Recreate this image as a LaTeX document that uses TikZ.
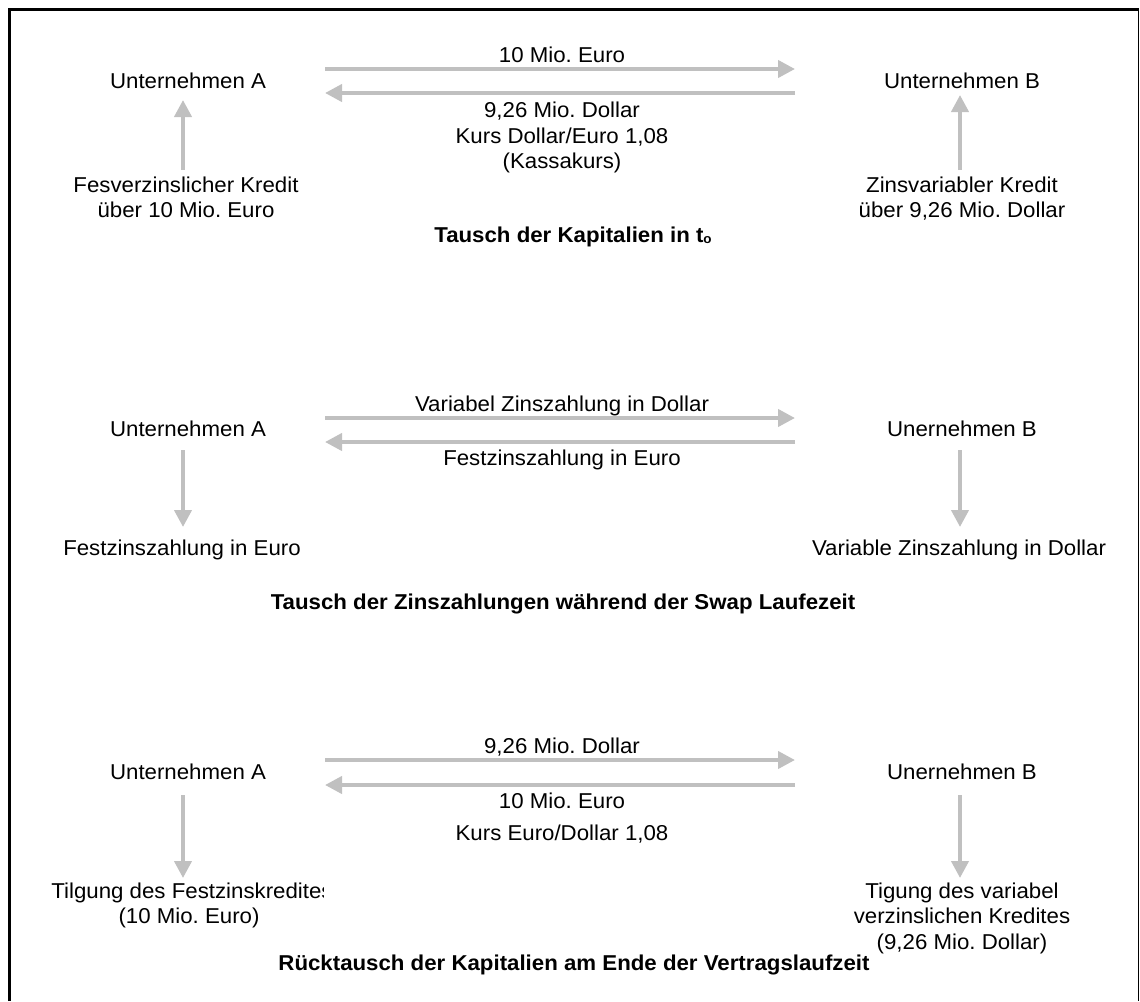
\documentclass[tikz,border=0pt]{standalone}
\usepackage{fontspec}
\setmainfont{Liberation Sans}[FakeStretch=1.035]
\usetikzlibrary{arrows.meta}
\definecolor{arr}{RGB}{192,192,192}
\frenchspacing
\tikzset{
  txt/.style={font=\fontsize{21.5}{25.5}\selectfont\frenchspacing, inner sep=0pt, align=center, anchor=base},
  ttl/.style={font=\fontsize{21.5}{25.5}\selectfont\bfseries\frenchspacing, inner sep=0pt, align=center, anchor=base},
  flow/.style={draw=arr, line width=4pt, -{Triangle[length=17pt,width=17pt]}},
}
\begin{document}
\begin{tikzpicture}[x=1pt,y=-1pt]
\useasboundingbox (0,0) rectangle (1140,1001);
% frame
\draw[line width=1.2pt] (1138.5,9.5) -- (1138.5,1001);
\draw[line width=3pt] (9.5,1001) -- (9.5,9.5) -- (1138.5,9.5);

% ---------- Section 1 (multi-line nodes: base = last line)
\node[txt] (a1) at (188,88) {Unternehmen A};
\node[txt] (b1) at (962,88) {Unternehmen B};
\node[txt] (l1t) at (562,62.5) {10 Mio. Euro};
\node[txt] (l1b) at (562,168.5) {9,26 Mio. Dollar\\Kurs Dollar/Euro 1,08\\(Kassakurs)};
\node[txt] (ka) at (186,217.5) {Fesverzinslicher Kredit\\über 10 Mio. Euro};
\node[txt] (kb) at (962,217.5) {Zinsvariabler Kredit\\über 9,26 Mio. Dollar};
\node[ttl] (t1) at (573,242) {Tausch der Kapitalien in t\raisebox{-1pt}{\fontsize{13}{13}\selectfont o}};
\coordinate (s1a) at (325,69);  \coordinate (s1b) at (795,69);
\coordinate (s1c) at (795,93);  \coordinate (s1d) at (325,93);
\coordinate (s1e) at (183,170); \coordinate (s1f) at (183,100);
\coordinate (s1g) at (960,170); \coordinate (s1h) at (960,95);
\draw[flow] (s1a) -- (s1b);
\draw[flow] (s1c) -- (s1d);
\draw[flow] (s1e) -- (s1f);
\draw[flow] (s1g) -- (s1h);

% ---------- Section 2
\node[txt] (a2) at (188,436) {Unternehmen A};
\node[txt] (b2) at (962,436) {Unernehmen B};
\node[txt] (l2t) at (562,411.5) {Variabel Zinszahlung in Dollar};
\node[txt] (l2b) at (562,465) {Festzinszahlung in Euro};
\node[txt] (za) at (182,555) {Festzinszahlung in Euro};
\node[txt] (zb) at (959,555) {Variable Zinszahlung in Dollar};
\node[ttl] (t2) at (563,609) {Tausch der Zinszahlungen während der Swap Laufezeit};
\coordinate (s2a) at (325,418); \coordinate (s2b) at (795,418);
\coordinate (s2c) at (795,442); \coordinate (s2d) at (325,442);
\coordinate (s2e) at (183,450); \coordinate (s2f) at (183,527);
\coordinate (s2g) at (960,450); \coordinate (s2h) at (960,527);
\draw[flow] (s2a) -- (s2b);
\draw[flow] (s2c) -- (s2d);
\draw[flow] (s2e) -- (s2f);
\draw[flow] (s2g) -- (s2h);

% ---------- Section 3
\node[txt] (a3) at (188,779) {Unternehmen A};
\node[txt] (b3) at (962,779) {Unernehmen B};
\node[txt] (l3t) at (562,753.5) {9,26 Mio. Dollar};
\node[txt] (l3b) at (562,808) {10 Mio. Euro};
\node[txt] (l3k) at (562,840) {Kurs Euro/Dollar 1,08};
\begin{scope}
  \clip (0,860) rectangle (323,910);
  \node[txt] (ta) at (192,898) {Tilgung des Festzinskredites};
\end{scope}
\node[txt] (ta2) at (189,923) {(10 Mio. Euro)};
\node[txt] (tb) at (962,949) {Tigung des variabel\\verzinslichen Kredites\\(9,26 Mio. Dollar)};
\node[ttl] (t3) at (574,970) {Rücktausch der Kapitalien am Ende der Vertragslaufzeit};
\coordinate (s3a) at (325,760); \coordinate (s3b) at (795,760);
\coordinate (s3c) at (795,785); \coordinate (s3d) at (325,785);
\coordinate (s3e) at (183,795); \coordinate (s3f) at (183,878);
\coordinate (s3g) at (960,795); \coordinate (s3h) at (960,878);
\draw[flow] (s3a) -- (s3b);
\draw[flow] (s3c) -- (s3d);
\draw[flow] (s3e) -- (s3f);
\draw[flow] (s3g) -- (s3h);
\end{tikzpicture}
\end{document}
